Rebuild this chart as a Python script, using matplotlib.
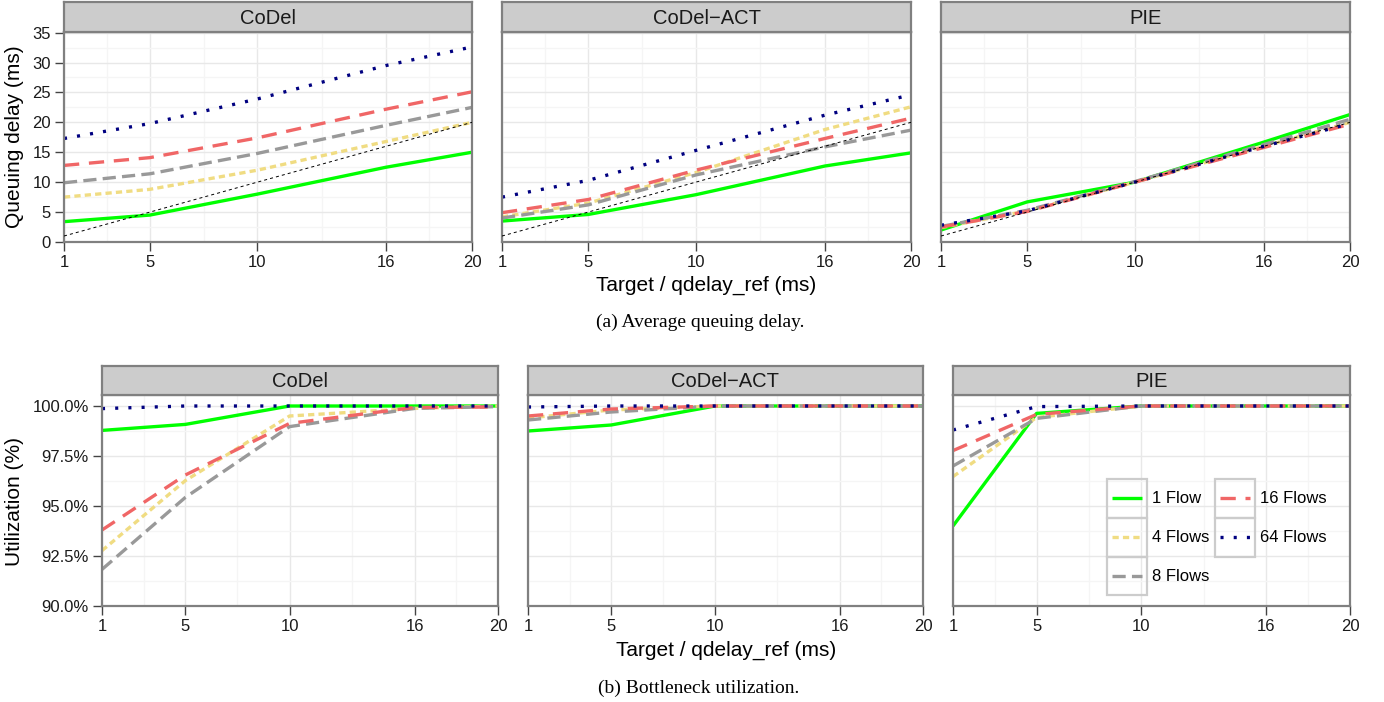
import matplotlib
matplotlib.use("Agg")
import matplotlib.pyplot as plt
from matplotlib.legend_handler import HandlerBase
from matplotlib.lines import Line2D
from matplotlib.patches import Rectangle

plt.rcParams['font.family'] = ['Liberation Sans', 'DejaVu Sans']
plt.rcParams['lines.scale_dashes'] = False

# ---- data ----
targets = [1, 5, 10, 16, 20]
flows = ['1 Flow', '4 Flows', '8 Flows', '16 Flows', '64 Flows']
aqms = ['CoDel', 'CoDel\u2212ACT', 'PIE']

# average queuing delay (ms), one row per flow count
delay_codel = [
    [3.4, 4.5, 8.0, 12.5, 15.0],
    [7.5, 8.8, 12.0, 16.8, 20.0],
    [9.9, 11.4, 14.8, 19.5, 22.5],
    [12.8, 14.1, 17.4, 22.2, 25.1],
    [17.3, 19.8, 23.9, 29.5, 32.6],
]
delay_codel_act = [
    [3.5, 4.6, 7.9, 12.7, 14.9],
    [4.2, 6.5, 11.6, 18.8, 22.6],
    [4.0, 6.2, 11.2, 15.9, 18.7],
    [4.9, 7.1, 12.0, 17.3, 20.7],
    [7.5, 10.3, 15.3, 21.2, 24.6],
]
delay_pie = [
    [2.0, 6.7, 10.0, 16.7, 21.3],
    [2.4, 5.2, 10.0, 16.0, 20.0],
    [2.6, 5.3, 10.1, 16.3, 20.5],
    [2.5, 5.1, 10.0, 15.8, 19.7],
    [2.8, 5.2, 10.0, 16.0, 19.8],
]

# bottleneck utilization (%)
util_codel = [
    [98.78, 99.08, 100.0, 100.0, 100.0],
    [92.77, 96.27, 99.50, 99.88, 100.0],
    [91.83, 95.43, 98.97, 99.88, 99.97],
    [93.80, 96.55, 99.13, 99.93, 99.95],
    [99.87, 100.0, 100.0, 100.0, 100.0],
]
util_codel_act = [
    [98.75, 99.05, 100.0, 100.0, 100.0],
    [99.40, 99.80, 100.0, 100.0, 100.0],
    [99.30, 99.70, 100.0, 100.0, 100.0],
    [99.50, 99.85, 100.0, 100.0, 100.0],
    [99.95, 100.0, 100.0, 100.0, 100.0],
]
util_pie = [
    [94.00, 99.63, 100.0, 100.0, 100.0],
    [96.47, 99.43, 100.0, 100.0, 100.0],
    [97.00, 99.38, 100.0, 100.0, 100.0],
    [97.77, 99.58, 100.0, 100.0, 100.0],
    [98.80, 99.97, 100.0, 100.0, 100.0],
]

delay_ticks = [0, 5, 10, 15, 20, 25, 30, 35]
util_ticks = [90.0, 92.5, 95.0, 97.5, 100.0]

# ---- styles ----
colors = ['#00FF00', '#F0DC82', '#999999', '#F06666', '#000080']
dashes = [None, (4.5, 3.0), (9.5, 4.5), (11.0, 7.0), (2.2, 7.3)]
LW = 2.4

W, H = 1384, 702
fig = plt.figure(figsize=(W / 100, H / 100), dpi=100)


def px_axes(x0, y0, x1, y1):
    return fig.add_axes([x0 / W, 1 - y1 / H, (x1 - x0) / W, (y1 - y0) / H])


def style_panel(ax, yticks, ylim, show_ylabels, fmt):
    ax.set_xlim(1, 20)
    ax.set_ylim(*ylim)
    ax.set_xticks(targets)
    ax.set_xticks([3, 7.5, 13, 18], minor=True)
    ax.set_yticks(yticks)
    step = yticks[1] - yticks[0]
    ax.set_yticks([v + step / 2 for v in yticks[:-1]], minor=True)
    ax.grid(True, which='major', color='#E8E8E8', lw=1.0)
    ax.grid(True, which='minor', color='#F5F5F5', lw=1.0)
    ax.set_axisbelow(True)
    for s in ax.spines.values():
        s.set_color('#808080')
        s.set_linewidth(1.6)
    ax.tick_params(which='major', length=6.5, width=1.0, color='#444444',
                   labelsize=12, labelcolor='#1a1a1a', pad=3)
    ax.tick_params(which='minor', length=0)
    ax.set_xticklabels([str(t) for t in targets])
    if show_ylabels:
        ax.set_yticklabels([fmt(v) for v in yticks])
    else:
        ax.set_yticklabels([])
        ax.tick_params(axis='y', length=0)


def strip(x0, y0, x1, y1, label):
    s = px_axes(x0, y0, x1, y1)
    s.set_facecolor('#CCCCCC')
    s.set_xticks([])
    s.set_yticks([])
    for sp in s.spines.values():
        sp.set_color('#808080')
        sp.set_linewidth(1.6)
    s.text(0.5, 0.45, label, ha='center', va='center', fontsize=14.5,
           transform=s.transAxes, color='#1a1a1a')


def draw_lines(ax, rows):
    handles = []
    for i, vals in enumerate(rows):
        kw = dict(color=colors[i], lw=LW, label=flows[i], solid_capstyle='butt',
                  dash_capstyle='butt')
        if dashes[i] is not None:
            kw['dashes'] = dashes[i]
        h, = ax.plot(targets, vals, **kw)
        handles.append(h)
    return handles


# ---- top row: queuing delay ----
top_x = [(64, 472), (502, 911), (941, 1350)]
for k, (rows, (x0, x1)) in enumerate(zip([delay_codel, delay_codel_act, delay_pie], top_x)):
    ax = px_axes(x0, 32, x1, 242)
    style_panel(ax, delay_ticks, (0, 35.1), k == 0, lambda v: f'{v:g}')
    ax.plot([1, 20], [1, 20], color='black', lw=0.7, dashes=(2.2, 2.2), zorder=3)
    draw_lines(ax, rows)
    strip(x0, 2, x1, 32, aqms[k])

# ---- bottom row: utilization ----
bot_x = [(102, 498), (528, 923), (953, 1350)]
for k, (rows, (x0, x1)) in enumerate(zip([util_codel, util_codel_act, util_pie], bot_x)):
    ax = px_axes(x0, 395, x1, 606)
    style_panel(ax, util_ticks, (90, 100.55), k == 0, lambda v: f'{v:.1f}%')
    handles = draw_lines(ax, rows)
    strip(x0, 366, x1, 395, aqms[k])


class BoxedKey(HandlerBase):
    def create_artists(self, legend, orig_handle, xdescent, ydescent,
                       width, height, fontsize, trans):
        pad = 0.13 * width
        y = height / 2 - ydescent
        line = Line2D([-xdescent + pad, -xdescent + width - pad], [y, y])
        self.update_prop(line, orig_handle, legend)
        line.set_transform(trans)
        rect = Rectangle((-xdescent, -ydescent), width, height, fc='none',
                         ec='#CCCCCC', lw=1.6, transform=trans)
        return [rect, line]


fig.legend(handles=handles, labels=flows, ncol=2, loc='upper left',
           bbox_to_anchor=(1107 / W, 1 - 479 / H), frameon=False,
           fontsize=12, handlelength=2.4, handleheight=3.2,
           labelspacing=0.0, handletextpad=0.3, columnspacing=0.35,
           borderpad=0.0, borderaxespad=0.0,
           handler_map={Line2D: BoxedKey()})

# axis titles
fig.text(706 / W, 1 - 285 / H, 'Target / qdelay_ref (ms)', ha='center', va='center', fontsize=15)
fig.text(726 / W, 1 - 650 / H, 'Target / qdelay_ref (ms)', ha='center', va='center', fontsize=15)
fig.text(15 / W, 1 - 137 / H, 'Queuing delay (ms)', ha='center', va='center', rotation=90, fontsize=15)
fig.text(15 / W, 1 - 501 / H, 'Utilization (%)', ha='center', va='center', rotation=90, fontsize=15)

# captions
fig.text(700 / W, 1 - 322 / H, '(a) Average queuing delay.', ha='center', va='center',
         fontsize=14, family=['Liberation Serif', 'DejaVu Serif'])
fig.text(699 / W, 1 - 688 / H, '(b) Bottleneck utilization.', ha='center', va='center',
         fontsize=14, family=['Liberation Serif', 'DejaVu Serif'])

fig.savefig('out.png', dpi=100)
